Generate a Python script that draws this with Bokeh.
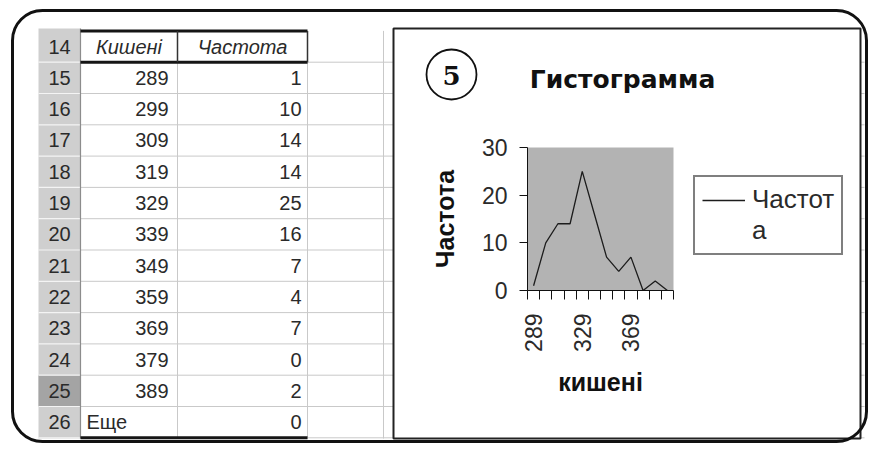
import math
from bokeh.plotting import figure
from bokeh.models import (Range1d, LinearAxis, FixedTicker, CustomJSTickFormatter, Legend, LegendItem)
from bokeh.core.properties import value
from bokeh.embed import file_html
from bokeh.resources import INLINE

# ---------------- data ----------------
categories = ["289", "299", "309", "319", "329", "339", "349", "359", "369", "379", "389", "Еще"]
frequencies = [1, 10, 14, 14, 25, 16, 7, 4, 7, 0, 2, 0]
row_numbers = ["14", "15", "16", "17", "18", "19", "20", "21", "22", "23", "24", "25", "26"]
table_headers = ["Кишені", "Частота"]
selected_row = "25"
y_ticks = [0, 10, 20, 30]
label_step = 4
chart_title = "Гистограмма"
x_title = "кишені"
y_title = "Частота"
legend_lines = ["Частот", "а"]
badge_text = "5"

# ---------------- layout (picture pixels) ----------------
OFF = 0
W, H = 868, 443
PL, PR, PT, PB = 527, 673, 147, 290            # gray plot area
ROW_TOP, ROW_H = 30.4, 31.3
HEAD_L = 38
COL_X = [80, 177, 307, 383]
CH_L, CH_R, CH_T, CH_B = 393, 860, 28, 438     # embedded chart object
BEHIND_COLS = [465, 532, 607, 680, 747, 810]
FR_L, FR_R, FR_T, FR_B = 12, W - 2, 10, H - 2  # rounded outer frame
SHEET_TOP, SHEET_BOTTOM = 28, FR_B - 3
LEG_L, LEG_B = 693, 255
BADGE_X, BADGE_Y, BADGE_R = 451, 74, 25
TXT = "#2a2a2a"
GRID = "#c9c9c9"
FONT = "Liberation Sans"

n_cat = len(categories)
y_max = max(y_ticks)

p = figure(width=W, height=H, output_backend="svg", toolbar_location=None, tools="",
           x_range=Range1d(OFF, OFF + W), y_range=Range1d(OFF + H, OFF),
           x_axis_location=None, y_axis_location=None, min_border=0)
p.outline_line_color = None
p.background_fill_color = "white"
p.border_fill_color = "white"
p.grid.visible = False

# chart coordinates: category slots on x, frequency on y, placed on the gray plot area
px_per_slot = (PR - PL) / n_cat
px_per_unit = (PB - PT) / y_max
p.extra_x_ranges = {"slot": Range1d((OFF - PL) / px_per_slot, (OFF + W - PL) / px_per_slot)}
p.extra_y_ranges = {"freq": Range1d((PB - (OFF + H)) / px_per_unit, (PB - OFF) / px_per_unit)}
CH = dict(x_range_name="slot", y_range_name="freq")

# ======== spreadsheet ========
n_rows = len(row_numbers)
bounds = [ROW_TOP + ROW_H * k for k in range(n_rows + 1)]
centers = [ROW_TOP + ROW_H * (k + 0.5) for k in range(n_rows)]

p.quad(left=HEAD_L, right=COL_X[0], top=SHEET_TOP, bottom=SHEET_BOTTOM,
       fill_color="#cfcfcf", line_color=None)
k_sel = row_numbers.index(selected_row)
p.quad(left=HEAD_L, right=COL_X[0], top=bounds[k_sel], bottom=bounds[k_sel + 1],
       fill_color="#a4a4a4", line_color=None)

gx0, gy0, gx1, gy1 = [], [], [], []
for y in bounds[1:]:
    gx0.append(COL_X[0]); gx1.append(FR_R - 2); gy0.append(y); gy1.append(y)
for x in COL_X[1:] + BEHIND_COLS:
    gx0.append(x); gx1.append(x); gy0.append(bounds[0]); gy1.append(SHEET_BOTTOM)
p.segment(x0=gx0, y0=gy0, x1=gx1, y1=gy1, line_color=GRID, line_width=1)
p.segment(x0=[HEAD_L] * n_rows, y0=bounds[1:], x1=[COL_X[0]] * n_rows, y1=bounds[1:],
          line_color="#f4f4f4", line_width=1.2)
p.segment(x0=[COL_X[0]], y0=[SHEET_TOP], x1=[COL_X[0]], y1=[SHEET_BOTTOM],
          line_color="#8c8c8c", line_width=1.2)
p.segment(x0=[COL_X[0]] * 3, y0=[bounds[0], bounds[1], bounds[-1]],
          x1=[COL_X[2]] * 3, y1=[bounds[0], bounds[1], bounds[-1]], line_color="#151515", line_width=3)
p.segment(x0=[COL_X[1], COL_X[2]], y0=[bounds[0]] * 2, x1=[COL_X[1], COL_X[2]], y1=[bounds[1]] * 2,
          line_color="#333333", line_width=1.5)

tf = value(FONT)
p.text(x=[(HEAD_L + COL_X[0]) / 2] * n_rows, y=centers, text=row_numbers,
       text_font=tf, text_font_size="20px", text_align="center", text_baseline="middle", text_color=TXT)
p.text(x=[(COL_X[0] + COL_X[1]) / 2, (COL_X[1] + COL_X[2]) / 2], y=[centers[0]] * 2, text=table_headers,
       text_font=tf, text_font_size="20px", text_font_style="italic",
       text_align="center", text_baseline="middle", text_color=TXT)
num_idx = [i for i, c in enumerate(categories) if c.isdigit()]
txt_idx = [i for i, c in enumerate(categories) if not c.isdigit()]
p.text(x=[COL_X[1] - 9] * len(num_idx), y=[centers[i + 1] for i in num_idx],
       text=[categories[i] for i in num_idx], text_font=tf, text_font_size="20px",
       text_align="right", text_baseline="middle", text_color=TXT)
p.text(x=[COL_X[0] + 6] * len(txt_idx), y=[centers[i + 1] for i in txt_idx],
       text=[categories[i] for i in txt_idx], text_font=tf, text_font_size="20px",
       text_align="left", text_baseline="middle", text_color=TXT)
p.text(x=[COL_X[2] - 6] * len(frequencies), y=centers[1:], text=[str(v) for v in frequencies],
       text_font=tf, text_font_size="20px", text_align="right", text_baseline="middle", text_color=TXT)

# ======== chart object ========
p.quad(left=CH_L, right=CH_R, top=CH_T, bottom=CH_B, fill_color="white",
       line_color="#222222", line_width=2)
p.text(x=[622], y=[79], text=[chart_title], text_font=value("DejaVu Sans"), text_font_style="bold",
       text_font_size="25px", text_align="center", text_baseline="middle", text_color="#111111")
p.circle(x=[BADGE_X], y=[BADGE_Y], radius=BADGE_R, fill_color="white",
         line_color="#111111", line_width=1.8)
p.text(x=[BADGE_X], y=[BADGE_Y + 1], text=[badge_text], text_font=value("DejaVu Serif"),
       text_font_style="bold", text_font_size="26px", text_align="center", text_baseline="middle",
       text_color="#111111")

# plot area and data line in chart coordinates
p.quad(left=0, right=n_cat, bottom=0, top=y_max, fill_color="#b3b3b3", line_color=None, **CH)
slot_x = [i + 0.5 for i in range(n_cat)]
line_r = p.line(x=slot_x, y=frequencies, line_color="#1c1c1c", line_width=1.3, **CH)
dummy_r = p.line(x=[], y=[], line_alpha=0, **CH)

yax = LinearAxis(ticker=FixedTicker(ticks=y_ticks), axis_label=y_title,
                 fixed_location=0, bounds=(0, y_max), **CH)
yax.axis_line_color = "#111111"
yax.major_tick_out = 8
yax.major_tick_in = 0
yax.major_tick_line_color = "#111111"
yax.minor_tick_line_color = None
yax.major_label_text_font = FONT
yax.major_label_text_font_size = "23px"
yax.major_label_text_color = TXT
yax.major_label_standoff = 12
yax.axis_label_text_font = FONT
yax.axis_label_text_font_style = "bold"
yax.axis_label_text_font_size = "25px"
yax.axis_label_text_color = "#111111"
yax.axis_label_standoff = 20
p.add_layout(yax, "left")

xax = LinearAxis(ticker=FixedTicker(ticks=[slot_x[i] for i in range(0, n_cat, label_step)],
                                    minor_ticks=list(range(n_cat + 1))),
                 formatter=CustomJSTickFormatter(args=dict(cats=categories),
                                                 code="return cats[Math.floor(tick)];"),
                 axis_label=x_title, fixed_location=0, bounds=(0, n_cat), **CH)
xax.axis_line_color = "#111111"
xax.major_tick_line_color = None
xax.major_tick_out = 0
xax.major_tick_in = 0
xax.minor_tick_out = 9
xax.minor_tick_in = 0
xax.minor_tick_line_color = "#111111"
xax.major_label_orientation = math.pi / 2
xax.major_label_standoff = 14
xax.major_label_text_font = FONT
xax.major_label_text_font_size = "23px"
xax.major_label_text_color = TXT
xax.axis_label_text_font = FONT
xax.axis_label_text_font_style = "bold"
xax.axis_label_text_font_size = "25px"
xax.axis_label_text_color = "#111111"
xax.axis_label_standoff = 13
p.add_layout(xax, "below")

legend = Legend(items=[LegendItem(label=value(legend_lines[0]), renderers=[line_r]),
                       LegendItem(label=value(legend_lines[1]), renderers=[dummy_r])],
                location=(LEG_L - OFF, (OFF + H) - LEG_B), orientation="vertical",
                glyph_width=43, glyph_height=30, label_height=30, spacing=0, padding=7,
                label_standoff=7, margin=0, border_line_color="#000000", border_line_width=2,
                background_fill_color="white", background_fill_alpha=1,
                label_text_font=FONT, label_text_font_size="26px", label_text_color=TXT)
p.add_layout(legend)

# outer rounded frame
p.quad(left=FR_L, right=FR_R, top=FR_T, bottom=FR_B, border_radius=30, fill_color=None,
       line_color="#111111", line_width=3)

open("out.html", "w").write(file_html(p, INLINE, title="Гистограмма"))
